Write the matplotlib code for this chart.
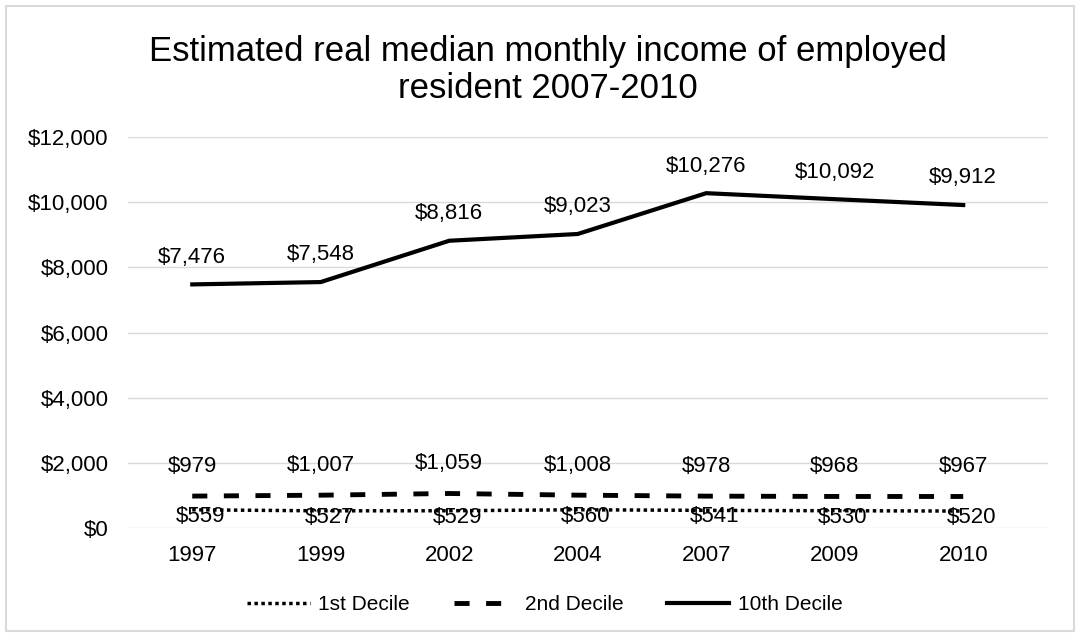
import matplotlib.pyplot as plt
import numpy as np
from matplotlib.patches import Rectangle

plt.rcParams['font.family'] = ['Liberation Sans', 'DejaVu Sans']

## Data
years = ['1997', '1999', '2002', '2004', '2007', '2009', '2010']
decile_1 = [559, 527, 529, 560, 541, 530, 520]
decile_2 = [979, 1007, 1059, 1008, 978, 968, 967]
decile_10 = [7476, 7548, 8816, 9023, 10276, 10092, 9912]
yticks = [0, 2000, 4000, 6000, 8000, 10000, 12000]

## Figure
fig = plt.figure(figsize=(10.8, 6.37), dpi=100)
fig.patches.append(Rectangle((6 / 1080, 6 / 637), 1068 / 1080, 625 / 637,
                             transform=fig.transFigure, fill=False,
                             edgecolor='#d9d9d9', linewidth=1.5))
ax = fig.add_axes([128 / 1080, 1 - 528 / 637, 920 / 1080, 391 / 637])

x = np.arange(len(years))
ax.plot(x, decile_1, color='black', linestyle=(0, (1, 1)), linewidth=2.5, label='1st Decile')
ax.plot(x, decile_2, color='black', linestyle=(0, (3.1, 3.4)), linewidth=3.5, label='2nd Decile')
ax.plot(x, decile_10, color='black', linestyle='-', linewidth=3, label='10th Decile')

# data labels
fs = 16
for i in x:
    ax.annotate(f'${decile_10[i]:,}', (i, decile_10[i]), xytext=(0, 12), textcoords='offset points',
                ha='center', va='bottom', fontsize=fs)
    ax.annotate(f'${decile_2[i]:,}', (i, decile_2[i]), xytext=(0, 14), textcoords='offset points',
                ha='center', va='bottom', fontsize=fs)
    ax.annotate(f'${decile_1[i]:,}', (i, decile_1[i]), xytext=(6, 3), textcoords='offset points',
                ha='center', va='top', fontsize=fs)

ax.set_xlim(-0.5, 6.66)
ax.set_ylim(0, 12000)
ax.set_yticks(yticks)
ax.set_yticklabels([f'${v:,}' for v in yticks], fontsize=fs)
ax.set_xticks(x)
ax.set_xticklabels(years, fontsize=fs)
ax.tick_params(length=0, pad=14)
ax.tick_params(axis='x', pad=12)
ax.grid(axis='y', color='#d9d9d9', linewidth=1)
ax.set_axisbelow(True)
for s in ax.spines.values():
    s.set_visible(False)

fig.text(548 / 1080, 1 - 70 / 637, 'Estimated real median monthly income of employed\nresident 2007-2010',
         ha='center', va='center', fontsize=25, linespacing=1.15)

fig.legend(loc='center', bbox_to_anchor=(545 / 1080, 1 - 605 / 637), ncol=3, frameon=False,
           fontsize=15, handlelength=3.0, columnspacing=2.1, handletextpad=0.4)

fig.savefig('out.png', dpi=100, facecolor='white')
